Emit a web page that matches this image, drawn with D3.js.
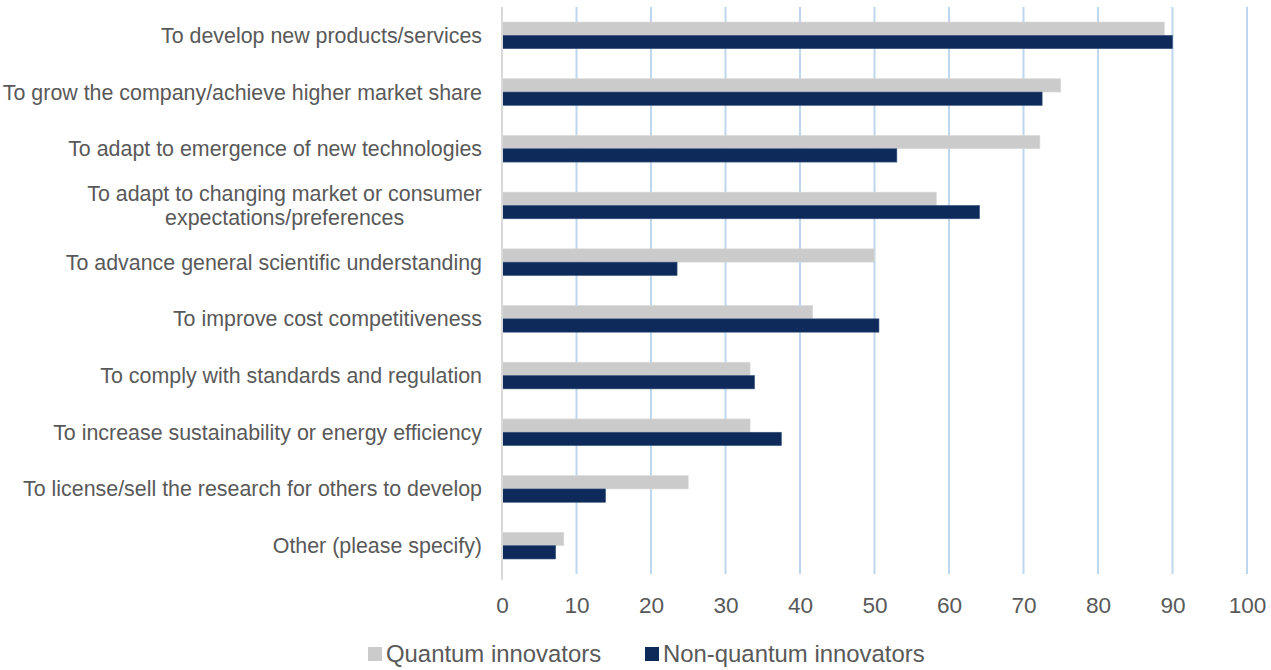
<!DOCTYPE html>
<html><head><meta charset="utf-8">
<script src="https://cdn.jsdelivr.net/npm/d3@7"></script>
<style>html,body{margin:0;padding:0;background:#fff;}svg{display:block;}</style>
</head><body>
<script>
const categories = [
  "To develop new products/services",
  "To grow the company/achieve higher market share",
  "To adapt to emergence of new technologies",
  "To adapt to changing market or consumer|expectations/preferences",
  "To advance general scientific understanding",
  "To improve cost competitiveness",
  "To comply with standards and regulation",
  "To increase sustainability or energy efficiency",
  "To license/sell the research for others to develop",
  "Other (please specify)"
];
const seriesNames = ["Quantum innovators", "Non-quantum innovators"];
const quantum = [88.9, 75.0, 72.2, 58.3, 50.0, 41.7, 33.3, 33.3, 25.0, 8.3];
const nonQuantum = [90.0, 72.5, 53.0, 64.1, 23.5, 50.6, 33.9, 37.5, 13.9, 7.2];
const xTicks = [0, 10, 20, 30, 40, 50, 60, 70, 80, 90, 100];
const colors = ["#CBCBCB", "#0E2A5A"];

const W = 1271, H = 670;
const svg = d3.select("body").append("svg").attr("width", W).attr("height", H);
const font = "'Liberation Sans', Arial, sans-serif";
const catSize = 21.4;

const x = d3.scaleLinear().domain([0, 100]).range([502, 1247]);
const y = d3.scaleBand().domain(categories).range([7, 574]).paddingInner(0.53).paddingOuter(0.265);
const ys = d3.scaleBand().domain(seriesNames).range([0, y.bandwidth()]);

// gridlines
svg.append("g").selectAll("line").data(xTicks.filter(d => d > 0)).join("line")
  .attr("x1", d => x(d)).attr("x2", d => x(d))
  .attr("y1", 7).attr("y2", 574)
  .attr("stroke", "#BDD7EE").attr("stroke-width", 2);

// bars
const data = categories.map((c, i) => ({c, vals: [quantum[i], nonQuantum[i]]}));
const g = svg.append("g");
data.forEach(d => {
  d.vals.forEach((v, j) => {
    g.append("rect")
      .attr("x", x(0)).attr("y", y(d.c) + ys(seriesNames[j]))
      .attr("width", x(v) - x(0)).attr("height", ys.bandwidth())
      .attr("fill", colors[j])
      .attr("stroke", j === 0 ? "#DADADA" : "#3A5580").attr("stroke-width", 0.6);
  });
});

// axis line
svg.append("line").attr("x1", x(0)).attr("x2", x(0)).attr("y1", 7).attr("y2", 580)
  .attr("stroke", "#D9D9D9").attr("stroke-width", 2);

// x axis labels
const xAxis = d3.axisBottom(x).tickValues(xTicks).tickSize(0).tickPadding(0);
const ax = svg.append("g").attr("transform", "translate(0,597)").call(xAxis);
ax.select(".domain").remove();
ax.selectAll("text").attr("font-family", font).attr("font-size", 22.6).attr("fill", "#595959").attr("dy", "0.71em");

// category labels
const yAxis = d3.axisLeft(y).tickSize(0).tickPadding(0);
const ay = svg.append("g").attr("transform", "translate(482,0)").call(yAxis);
ay.select(".domain").remove();
ay.selectAll("text").remove();
categories.forEach(c => {
  const lines = c.split("|");
  const cy = y(c) + y.bandwidth() / 2;
  const t = svg.append("text").attr("font-family", font).attr("font-size", catSize).attr("fill", "#595959");
  if (lines.length === 1) {
    t.attr("x", 482).attr("y", cy).attr("dy", "0.35em").attr("text-anchor", "end").text(c);
  } else {
    const tmp = svg.append("text").attr("font-family", font).attr("font-size", catSize).text(lines[0]);
    const w = tmp.node().getComputedTextLength(); tmp.remove();
    const mid = 482 - w / 2;
    lines.forEach((ln, k) => {
      t.append("tspan").attr("x", mid).attr("text-anchor", "middle")
        .attr("y", cy + (k - (lines.length - 1) / 2) * 24).attr("dy", "0.35em").text(ln);
    });
  }
});

// legend
const leg = svg.append("g").attr("transform", "translate(0,654)");
const legX = [368, 645];
seriesNames.forEach((s, i) => {
  leg.append("rect").attr("x", legX[i]).attr("y", -7).attr("width", 14).attr("height", 14).attr("fill", colors[i]);
  leg.append("text").attr("x", legX[i] + 18).attr("y", 0).attr("dy", "0.35em")
    .attr("font-family", font).attr("font-size", 23.9).attr("fill", "#595959").text(s);
});
</script>
</body></html>
